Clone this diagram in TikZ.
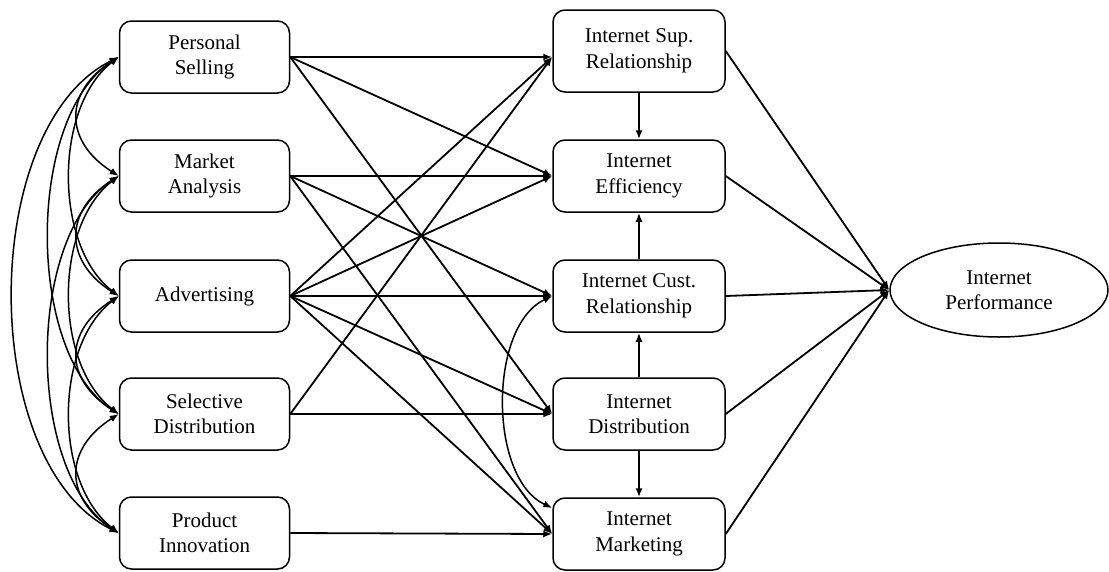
\documentclass[tikz,border=0pt]{standalone}
\usepackage{fontspec}
\setmainfont{Liberation Serif}
\usetikzlibrary{arrows.meta,shapes.geometric,calc}
\begin{document}
\begin{tikzpicture}[x=1pt,y=-1pt,
  every node/.style={font=\fontsize{21}{25.5}\selectfont, align=center},
  varbox/.style={draw, line width=1.5pt, rounded corners=12pt,
    minimum width=170pt, minimum height=72pt, inner sep=0pt},
  midbox/.style={varbox, minimum width=172pt},
  tip/.tip={Latex[length=9pt,width=7pt]},
  effect/.style={line width=1.8pt, -tip},
  cov/.style={line width=1.5pt, tip-tip},
]
\useasboundingbox (0,0) rectangle (1109,571);

% exogenous constructs
\node[varbox] (ps)  at (204.5,57)  {Personal\\Selling};
\node[varbox] (ma)  at (204.5,176) {Market\\Analysis};
\node[varbox] (adv) at (204.5,296) {Advertising};
\node[varbox] (sd)  at (204.5,414) {Selective\\Distribution};
\node[varbox] (pi)  at (204.5,533) {Product\\Innovation};

% internet constructs
\node[midbox, minimum height=82pt] (isr) at (639,51) {Internet Sup.\\Relationship};
\node[midbox] (ie)  at (639,176) {Internet\\Efficiency};
\node[midbox] (icr) at (639,296) {Internet Cust.\\Relationship};
\node[midbox] (id)  at (639,414) {Internet\\Distribution};
\node[midbox] (im)  at (639,534) {Internet\\Marketing};

% outcome
\node[draw, ellipse, line width=1.5pt, minimum width=218pt, minimum height=94pt,
  inner sep=0pt] (perf) at (999,290) {Internet\\Performance};

\coordinate (isrin) at (isr.west |- ps.east);
\coordinate (imcov) at ($(im.west)+(0,-26)$);

% paths from exogenous constructs
\draw[effect] (ps.east) -- (isrin);
\draw[effect] (ps.east) -- (ie.west);
\draw[effect] (ps.east) -- (id.west);
\draw[effect] (ma.east) -- (ie.west);
\draw[effect] (ma.east) -- (icr.west);
\draw[effect] (ma.east) -- (im.west);
\draw[effect] (adv.east) -- (isrin);
\draw[effect] (adv.east) -- (ie.west);
\draw[effect] (adv.east) -- (icr.west);
\draw[effect] (adv.east) -- (id.west);
\draw[effect] (adv.east) -- (im.west);
\draw[effect] (sd.east) -- (isrin);
\draw[effect] (sd.east) -- (id.west);
\draw[effect] (pi.east) -- (im.west);

% paths among internet constructs
\draw[effect] (isr.south) -- (ie.north);
\draw[effect] (icr.north) -- (ie.south);
\draw[effect] (id.north) -- (icr.south);
\draw[effect] (id.south) -- (im.north);
\draw[cov] (icr.west) .. controls +(-64,30) and +(-64,-30) .. (imcov);

% paths to performance
\draw[effect] (isr.east) -- (perf.west);
\draw[effect] (ie.east) -- (perf.west);
\draw[effect] (icr.east) -- (perf.west);
\draw[effect] (id.east) -- (perf.west);
\draw[effect] (im.east) -- (perf.west);

% correlations among exogenous constructs
\draw[cov] (ps.west)  .. controls +(-55,35) and +(-55,-35) .. (ma.west);
\draw[cov] (ma.west)  .. controls +(-55,35) and +(-55,-35) .. (adv.west);
\draw[cov] (adv.west) .. controls +(-55,35) and +(-55,-35) .. (sd.west);
\draw[cov] (sd.west)  .. controls +(-55,35) and +(-55,-35) .. (pi.west);
\draw[cov] (ps.west)  .. controls +(-65,50) and +(-65,-50) .. (adv.west);
\draw[cov] (ma.west)  .. controls +(-65,50) and +(-65,-50) .. (sd.west);
\draw[cov] (adv.west) .. controls +(-65,50) and +(-65,-50) .. (pi.west);
\draw[cov] (ps.west)  .. controls +(-93,60) and +(-93,-60) .. (sd.west);
\draw[cov] (ma.west)  .. controls +(-93,60) and +(-93,-60) .. (pi.west);
\draw[cov] (ps.west)  .. controls +(-141,70) and +(-141,-70) .. (pi.west);
\end{tikzpicture}
\end{document}
